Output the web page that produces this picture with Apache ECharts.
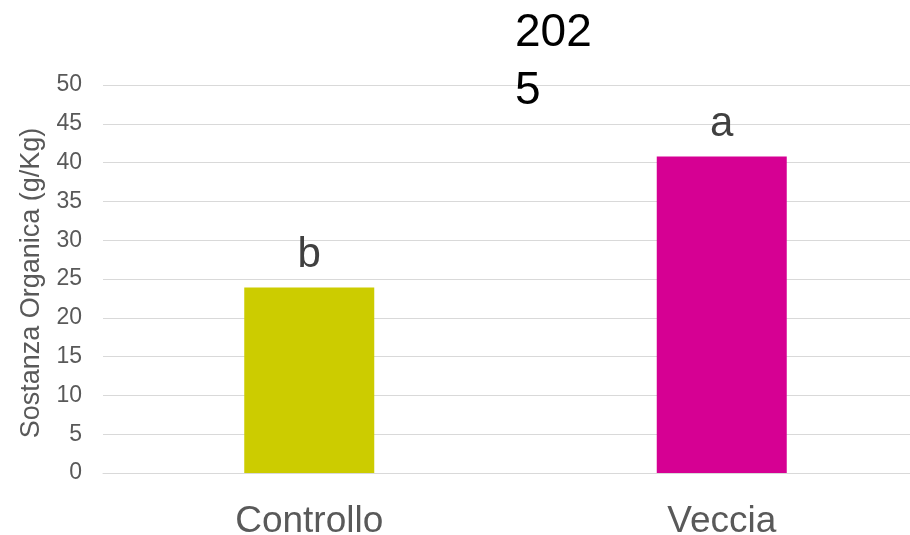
<!DOCTYPE html>
<html>
<head>
<meta charset="utf-8">
<script src="https://cdn.jsdelivr.net/npm/echarts@6/dist/echarts.min.js"></script>
<style>html,body{margin:0;padding:0;background:#fff}#c{width:910px;height:535px}</style>
</head>
<body>
<div id="c"></div>
<script>
const categories = ['Controllo', 'Veccia'];
const values = [23.9, 40.8];
const letters = ['b', 'a'];
const yTicks = [0, 5, 10, 15, 20, 25, 30, 35, 40, 45, 50];
const titleText = '202\n5';
const yName = 'Sostanza Organica (g/Kg)';

const barColors = ['#CCCC00', '#D60093'];
const FONT = '"Liberation Sans", Arial, sans-serif';

const chart = echarts.init(document.getElementById('c'));
chart.setOption({
  animation: false,
  backgroundColor: '#fff',
  title: {
    text: titleText,
    left: 515, top: 4, padding: 0,
    textStyle: { fontFamily: FONT, fontSize: 46, fontWeight: 'normal', color: '#000', lineHeight: 58 }
  },
  grid: { left: 103, right: -18, top: 85, bottom: 62, containLabel: false, outerBoundsMode: 'none' },
  xAxis: {
    type: 'category',
    data: categories,
    axisLine: { lineStyle: { color: '#d9d9d9', width: 1 } },
    axisTick: { show: false },
    axisLabel: { fontFamily: FONT, fontSize: 37, color: '#595959', margin: 30 }
  },
  yAxis: {
    type: 'value',
    min: yTicks[0], max: yTicks[yTicks.length - 1], interval: 5,
    name: yName,
    nameLocation: 'middle',
    nameGap: 50,
    nameTextStyle: { fontFamily: FONT, fontSize: 27, color: '#595959', padding: [0, 8, 0, 0] },
    axisLine: { show: false },
    axisTick: { show: false },
    splitLine: { lineStyle: { color: '#d9d9d9', width: 1 } },
    axisLabel: { fontFamily: FONT, fontSize: 23, color: '#595959', margin: 21 }
  },
  series: [{
    type: 'bar',
    barWidth: 130,
    data: values.map((v, i) => ({ value: v, itemStyle: { color: barColors[i] } })),
    label: {
      show: true, position: 'top', distance: 11,
      formatter: p => letters[p.dataIndex],
      fontFamily: FONT, fontSize: 42, color: '#404040'
    }
  }]
});
</script>
</body>
</html>
